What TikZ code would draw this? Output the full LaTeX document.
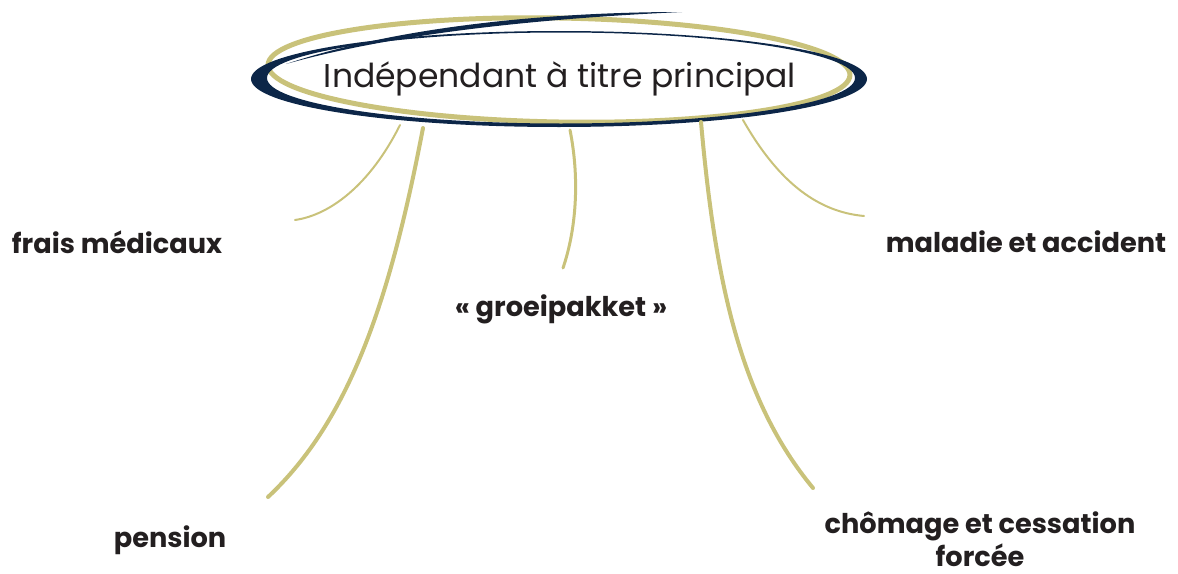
\documentclass[tikz,border=0pt]{standalone}
\usepackage{fontspec}
\setmainfont{Poppins}
\usepackage{xcolor}
\usepackage{tikz}

\definecolor{navy}{HTML}{0C2648}
\definecolor{khaki}{HTML}{C9C27A}
\definecolor{ink}{HTML}{231F20}

\begin{document}
\begin{tikzpicture}[x=0.5pt, y=-0.5pt]
				\tikzstyle{every node}=[font=\fontsize{13.6}{16.5}\selectfont\bfseries, text=ink, align=center, inner sep=0pt];
				\tikzstyle{branch}=[khaki, line cap=round];
				\useasboundingbox (0, 0) rectangle (1178, 573);
				
				%Title loop
				\draw[khaki, line width=2.5pt, rotate around={-1:(559, 70)}] (559, 70) ellipse [x radius=291, y radius=52];
				\fill[navy, even odd rule] (559, 79) ellipse [x radius=308, y radius=48]
					(561, 78) ellipse [x radius=294, y radius=45.5];
				\fill[navy] (286, 64) .. controls (400, 26) and (550, 12) .. (682, 12)
					.. controls (550, 18) and (400, 32) .. (286, 64);
				\node[font=\fontsize{16.5}{20}\selectfont] (title) at (560, 79) {Indépendant à titre principal};
				
				%Ends of the branches
				\coordinate (fraisend) at (295, 220);
				\coordinate (pensionend) at (268, 497);
				\coordinate (groeiend) at (563, 268);
				\coordinate (chomageend) at (813, 488);
				\coordinate (maladieend) at (864, 216);
				
				%Branches
				\draw[branch, line width=1pt] (400, 125) .. controls (370, 185) and (330, 215) .. (fraisend);
				\draw[branch, line width=2pt] (423, 128) .. controls (390, 300) and (350, 420) .. (pensionend);
				\draw[branch, line width=1.5pt] (570, 130) .. controls (580, 180) and (576, 230) .. (groeiend);
				\draw[branch, line width=2pt] (701, 122) .. controls (715, 280) and (740, 400) .. (chomageend);
				\draw[branch, line width=1pt] (743, 120) .. controls (780, 185) and (820, 212) .. (maladieend);
				
				%Labels
				\node (frais) at (117, 242) {frais médicaux};
				\node (groei) at (561, 309) {« groeipakket »};
				\node (maladie) at (1026, 242) {maladie et accident};
				\node (pension) at (170, 540) {pension};
				\node (chomage) at (980, 539) {chômage et cessation\\forcée};
			\end{tikzpicture}
\end{document}
